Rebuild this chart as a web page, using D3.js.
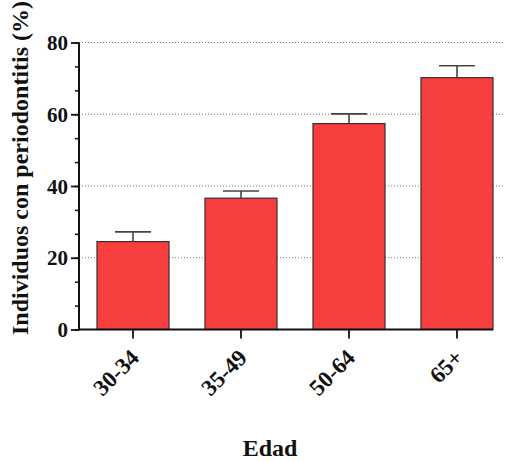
<!DOCTYPE html>
<html>
<head>
<meta charset="utf-8">
<script src="https://cdn.jsdelivr.net/npm/d3@7/dist/d3.min.js"></script>
<style>
  html, body { margin: 0; padding: 0; background: #fff; }
  svg { display: block; }
</style>
</head>
<body>
<svg id="chart" width="505" height="461"></svg>
<script>
// Age groups and percentage of individuals with periodontitis
const categories = ["30-34", "35-49", "50-64", "65+"];
const values = [24.5, 36.6, 57.4, 70.2];
const errors = [2.7, 2.0, 2.7, 3.3];
const yTicks = [0, 20, 40, 60, 80];

const serif = "'Liberation Serif', 'Times New Roman', Times, serif";
const svg = d3.select("#chart");
const plotLeft = 79, plotRight = 511, plotTop = 42.5, plotBottom = 329.5;

const x = d3.scaleBand().domain(categories).range([plotLeft, plotRight]).paddingInner(1 / 3).paddingOuter(1 / 6);
const y = d3.scaleLinear().domain([0, 80]).range([plotBottom, plotTop]);

// dotted horizontal gridlines
svg.append("g").selectAll("line").data(yTicks.filter(d => d > 0)).join("line")
  .attr("x1", plotLeft).attr("x2", 505)
  .attr("y1", d => y(d)).attr("y2", d => y(d))
  .attr("stroke", "#777").attr("stroke-width", 1).attr("stroke-dasharray", "1,2");

// bars
svg.append("g").selectAll("rect").data(categories).join("rect")
  .attr("x", d => x(d)).attr("width", x.bandwidth())
  .attr("y", (d, i) => y(values[i])).attr("height", (d, i) => plotBottom - y(values[i]))
  .attr("fill", "#F73F40").attr("stroke", "#3a2a2a").attr("stroke-width", 1.2);

// upper error bars
const eb = svg.append("g").attr("stroke", "#444").attr("stroke-width", 1.6);
categories.forEach((c, i) => {
  const cx = x(c) + x.bandwidth() / 2;
  eb.append("line").attr("x1", cx).attr("x2", cx).attr("y1", y(values[i])).attr("y2", y(values[i] + errors[i]));
  eb.append("line").attr("x1", cx - 18).attr("x2", cx + 18).attr("y1", y(values[i] + errors[i])).attr("y2", y(values[i] + errors[i]));
});

// y axis with major and minor ticks
const yAxis = svg.append("g").attr("transform", `translate(${plotLeft},0)`);
yAxis.call(d3.axisLeft(y).tickValues(d3.range(0, 80.01, 20 / 3)).tickSize(4).tickFormat(""));
yAxis.call(g => g.selectAll(".tick line").attr("stroke", "#111").attr("stroke-width", 1.5));
const yMajor = svg.append("g").attr("transform", `translate(${plotLeft},0)`)
  .call(d3.axisLeft(y).tickValues(yTicks).tickSize(8).tickPadding(3));
yMajor.attr("font-family", serif).attr("font-weight", "bold").attr("font-size", 21);
yMajor.selectAll(".tick line").attr("stroke", "#111").attr("stroke-width", 1.8);
yMajor.selectAll(".tick text").attr("fill", "#111").attr("dy", "0.34em");
svg.selectAll(".domain").remove();
svg.append("line").attr("x1", plotLeft).attr("x2", plotLeft).attr("y1", plotTop).attr("y2", plotBottom + 1)
  .attr("stroke", "#111").attr("stroke-width", 2);

// x axis
const xAxis = svg.append("g").attr("transform", `translate(0,${plotBottom})`)
  .call(d3.axisBottom(x).tickSize(9).tickSizeOuter(0));
xAxis.attr("font-family", serif).attr("font-weight", "bold").attr("font-size", 23);
xAxis.select(".domain").remove();
xAxis.selectAll(".tick line").attr("stroke", "#111").attr("stroke-width", 1.8);
xAxis.selectAll(".tick text")
  .attr("fill", "#111")
  .attr("text-anchor", "end")
  .attr("dx", 0).attr("dy", 0)
  .attr("transform", "translate(-1,21) rotate(-45)");
svg.append("line").attr("x1", plotLeft - 1).attr("x2", x("65+") + x.bandwidth())
  .attr("y1", plotBottom).attr("y2", plotBottom).attr("stroke", "#111").attr("stroke-width", 2);

// axis titles
svg.append("text").attr("x", 270).attr("y", 456).attr("text-anchor", "middle")
  .attr("font-family", serif).attr("font-weight", "bold").attr("font-size", 24).attr("fill", "#111")
  .text("Edad");
svg.append("text").attr("transform", "translate(28,168) rotate(-90)").attr("text-anchor", "middle")
  .attr("font-family", serif).attr("font-weight", "bold").attr("font-size", 24).attr("fill", "#111")
  .text("Individuos con periodontitis (%)");
</script>
</body>
</html>
